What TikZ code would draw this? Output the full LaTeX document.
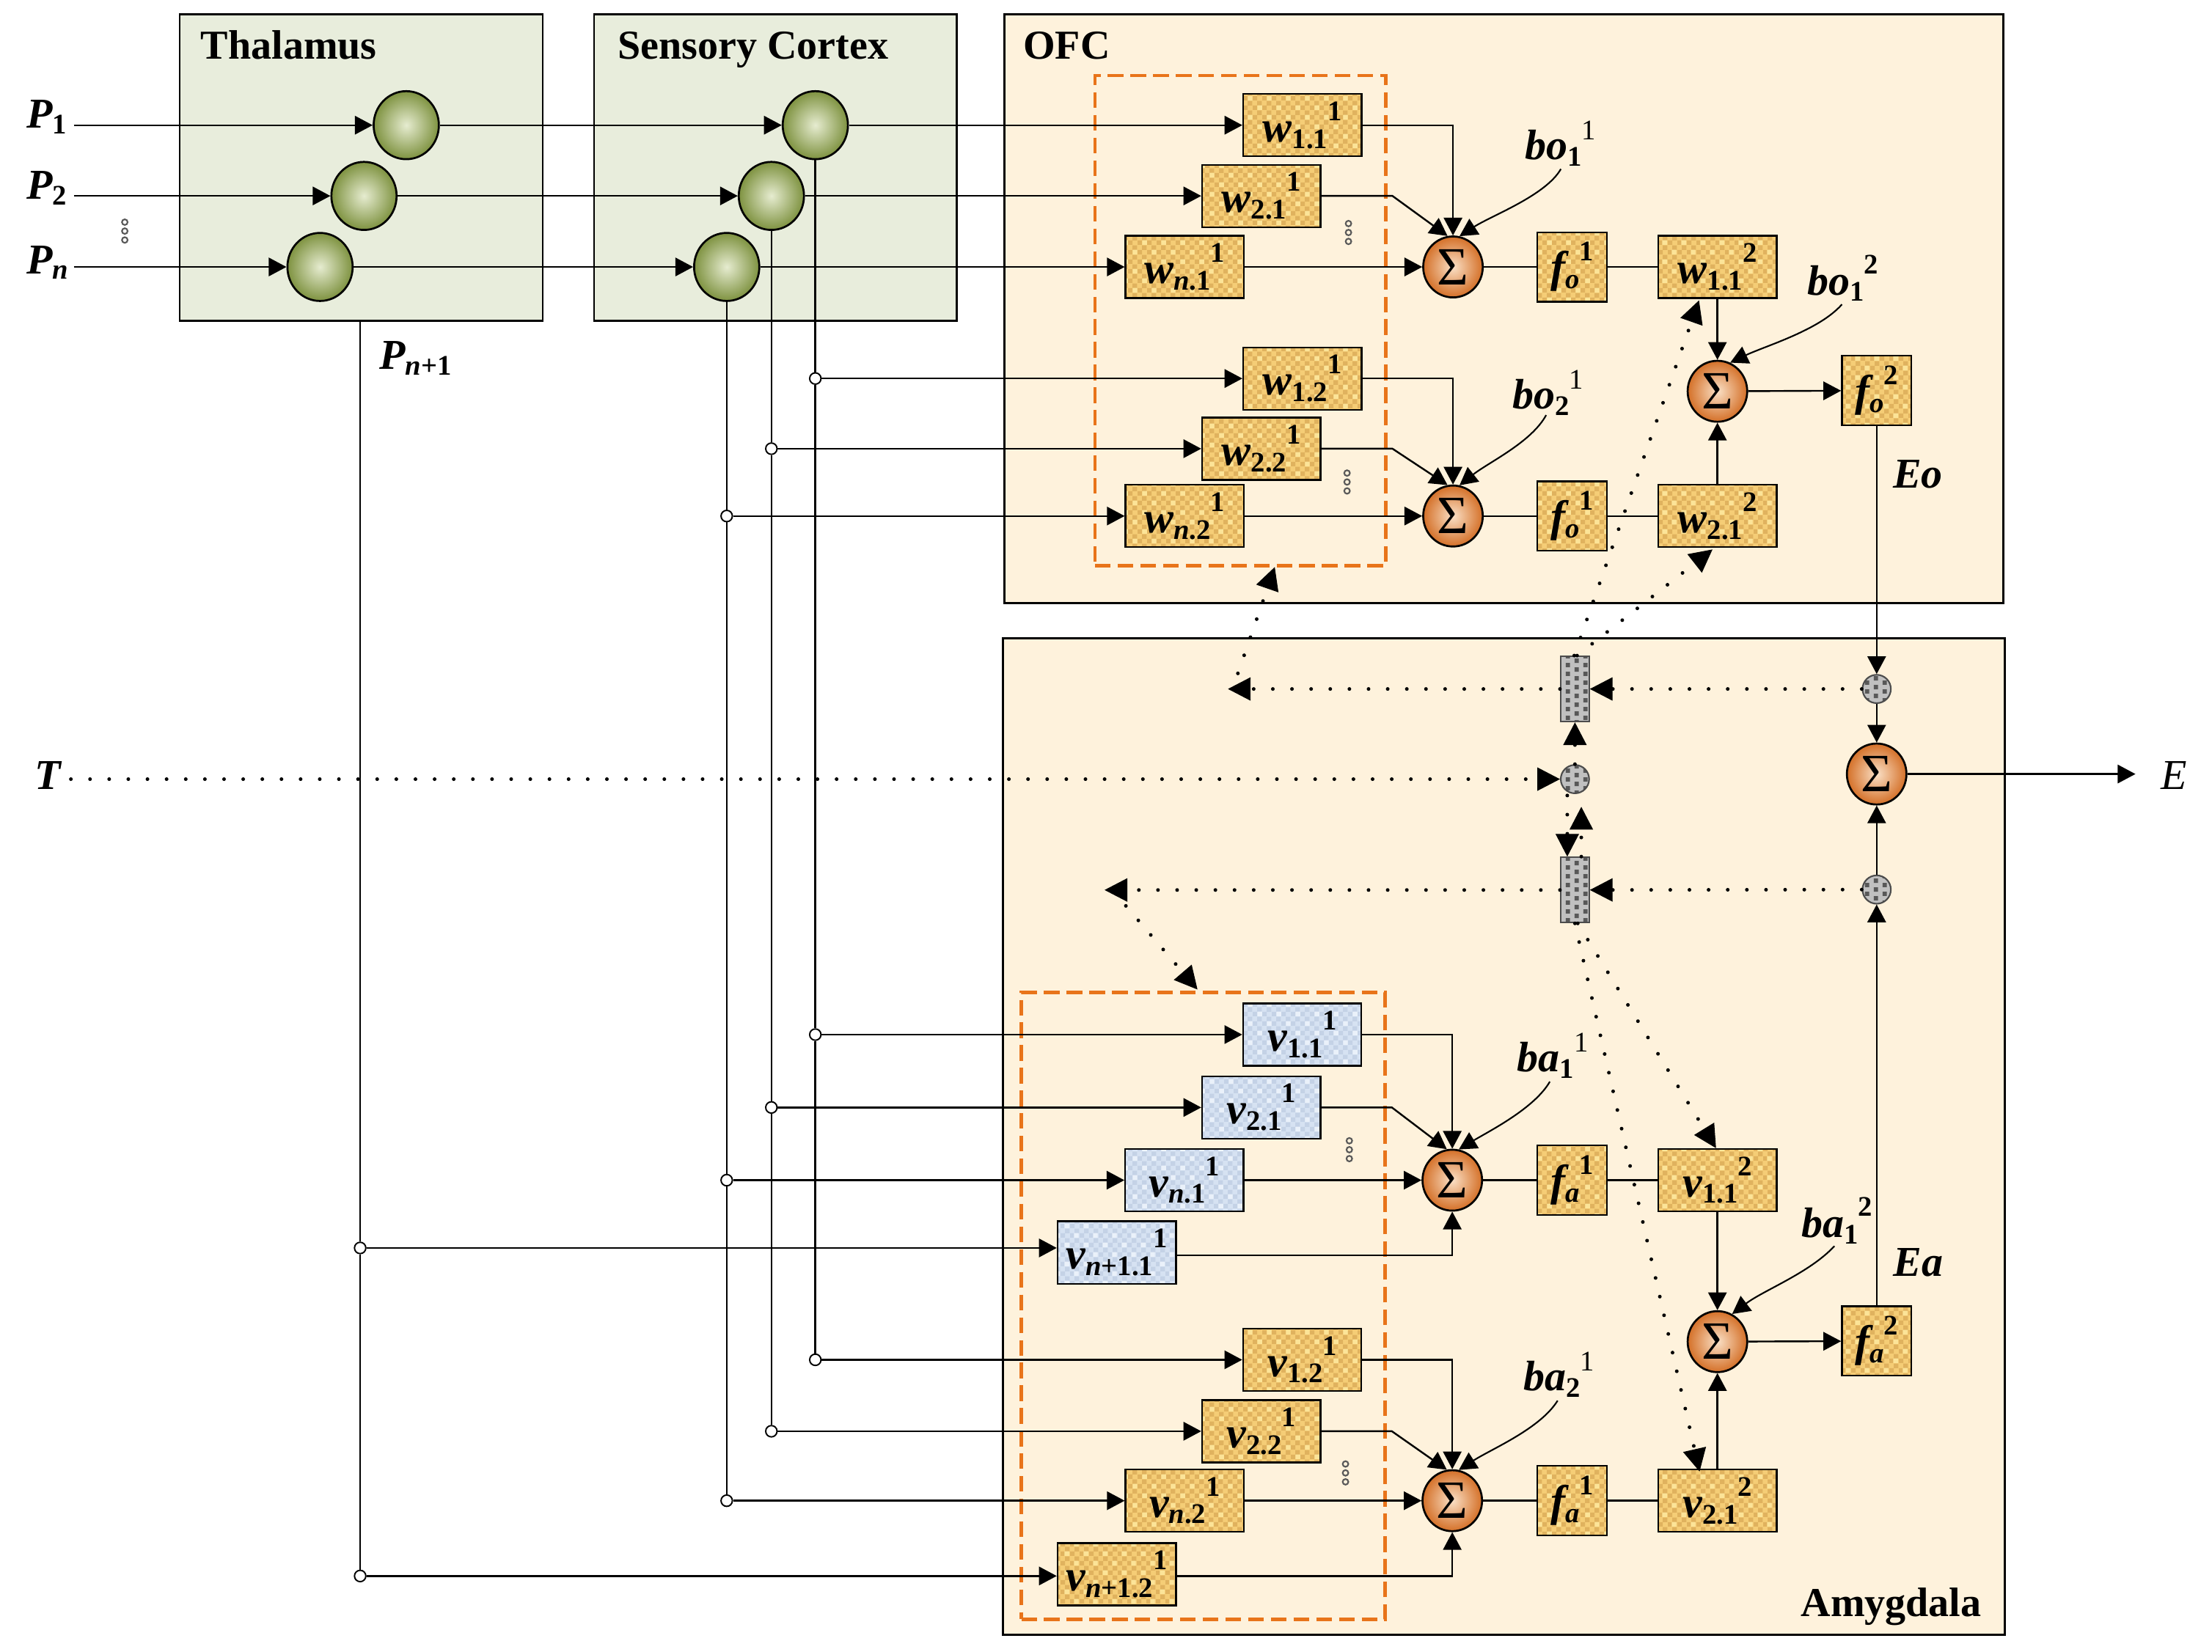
\documentclass[tikz,border=0pt]{standalone}
\usepackage{fontspec}
\setmainfont{Liberation Serif}
\usetikzlibrary{arrows.meta,patterns,shapes.geometric,calc}
\definecolor{thalfill}{RGB}{232,237,220}
\definecolor{ofcfill}{RGB}{254,242,220}
\definecolor{obase}{RGB}{245,205,118}
\definecolor{odark}{RGB}{224,178,94}
\definecolor{olight}{RGB}{252,228,152}
\definecolor{bbase}{RGB}{214,226,242}
\definecolor{bdark}{RGB}{196,210,230}
\definecolor{blight}{RGB}{234,241,250}
\definecolor{gbase}{RGB}{192,192,192}
\definecolor{gdark}{RGB}{88,88,88}
\definecolor{gin}{RGB}{230,236,208}
\definecolor{gout}{RGB}{126,146,64}
\definecolor{sin}{RGB}{250,224,198}
\definecolor{sout}{RGB}{212,112,40}
\definecolor{dorange}{RGB}{232,116,26}
\pgfdeclarepatternformonly{bigcheck}{\pgfqpoint{0pt}{0pt}}{\pgfqpoint{6.8pt}{6.8pt}}{\pgfqpoint{6.8pt}{6.8pt}}{%
 \pgfpathrectangle{\pgfqpoint{0pt}{0pt}}{\pgfqpoint{3.4pt}{3.4pt}}%
 \pgfpathrectangle{\pgfqpoint{3.4pt}{3.4pt}}{\pgfqpoint{3.4pt}{3.4pt}}%
 \pgfusepath{fill}}
\pgfdeclarepatternformonly{lightsq}{\pgfqpoint{0pt}{0pt}}{\pgfqpoint{13.6pt}{13.6pt}}{\pgfqpoint{13.6pt}{13.6pt}}{%
 \pgfpathrectangle{\pgfqpoint{3.4pt}{0pt}}{\pgfqpoint{3.4pt}{3.4pt}}%
 \pgfpathrectangle{\pgfqpoint{10.2pt}{6.8pt}}{\pgfqpoint{3.4pt}{3.4pt}}%
 \pgfusepath{fill}}
\pgfdeclarepatternformonly{graysq}{\pgfqpoint{0pt}{0pt}}{\pgfqpoint{12.4pt}{6.2pt}}{\pgfqpoint{12.4pt}{6.2pt}}{%
 \pgfpathrectangle{\pgfqpoint{1pt}{0pt}}{\pgfqpoint{3pt}{3pt}}%
 \pgfpathrectangle{\pgfqpoint{7.2pt}{3.1pt}}{\pgfqpoint{3pt}{3pt}}%
 \pgfusepath{fill}}
\newcommand{\SB}[1]{\raisebox{-4.5pt}{\fontsize{20pt}{20pt}\selectfont\bfseries\upshape #1}}
\newcommand{\SP}[1]{\raisebox{15pt}{\fontsize{20pt}{20pt}\selectfont\bfseries\upshape #1}}
\newcommand{\SPr}[1]{\raisebox{14pt}{\fontsize{20pt}{20pt}\selectfont\mdseries\upshape #1}}
\newcommand{\PB}[1]{\raisebox{-4pt}{\fontsize{20pt}{20pt}\selectfont\bfseries\upshape #1}}
\tikzset{vdts/.pic={\foreach \d in {-6.3,0,6.3} {\draw[line width=1.1pt, draw=black!65] (0,\d) circle[radius=2pt];}}}
\begin{document}
\begin{tikzpicture}[x=1pt,y=-1pt,line width=1.25pt,
  every node/.style={font=\fontsize{31pt}{31pt}\selectfont\bfseries\itshape},
  region/.style={draw, line width=1.4pt, inner sep=0pt, outer sep=0pt, anchor=north west},
  dbox/.style={draw=dorange, line width=2.5pt, dash pattern=on 11pt off 5pt, inner sep=0pt, anchor=north west},
  ttl/.style={font=\fontsize{29pt}{29pt}\selectfont\bfseries\upshape, inner sep=0pt},
  lbl/.style={inner sep=0pt},
  wbox/.style={rectangle, draw, line width=1.2pt, minimum width=83.5pt, minimum height=44pt, inner sep=0pt,
     preaction={fill=obase}, preaction={pattern=bigcheck, pattern color=odark}, pattern=lightsq, pattern color=olight},
  vbox/.style={rectangle, draw, line width=1.2pt, minimum width=83.5pt, minimum height=44pt, inner sep=0pt,
     preaction={fill=bbase}, preaction={pattern=bigcheck, pattern color=bdark}, pattern=lightsq, pattern color=blight},
  fbox/.style={wbox, minimum width=49pt, minimum height=49pt},
  sig/.style={ellipse, draw, line width=1.4pt, minimum width=42pt, minimum height=43pt, inner sep=0pt, inner color=sin, outer color=sout, font=\fontsize{38pt}{38pt}\selectfont\mdseries\upshape},
  grn/.style={ellipse, draw, line width=1.4pt, minimum width=46pt, minimum height=48pt, inner sep=0pt, inner color=gin, outer color=gout},
  gsm/.style={ellipse, draw=black!70, line width=1.1pt, minimum width=20pt, minimum height=20pt, inner sep=0pt, preaction={fill=gbase}, pattern=graysq, pattern color=gdark},
  gbar/.style={rectangle, draw=black!70, line width=1.1pt, minimum width=20pt, minimum height=46pt, inner sep=0pt, preaction={fill=gbase}, pattern=graysq, pattern color=gdark},
  jn/.style={circle, draw, fill=white, line width=1pt, minimum size=8pt, inner sep=0pt},
  arr/.style={-{Triangle[length=12.5pt,width=13pt]}},
  dotl/.style={line width=2.6pt, dash pattern=on 0pt off 13.5pt, line cap=round, -{Triangle[length=16pt,width=16.5pt,line width=0.5pt]}}
]
\useasboundingbox (0,0) rectangle (1560,1165);
% regions
\node[region, fill=thalfill, minimum width=256pt, minimum height=216pt] (thal) at (126.7,10.2) {};
\node[region, fill=thalfill, minimum width=255.6pt, minimum height=216pt] (sens) at (419,10.2) {};
\node[region, fill=ofcfill, minimum width=704.6pt, minimum height=415.4pt] (ofc) at (708.4,10.2) {};
\node[region, fill=ofcfill, minimum width=706.5pt, minimum height=702.6pt] (amy) at (707.5,450.4) {};
\node[dbox, minimum width=205pt, minimum height=346pt] (ofcd) at (771,52) {};
\node[dbox, minimum width=256.5pt, minimum height=442pt] (amyd) at (719,699) {};
% titles
\node[ttl, anchor=base west] (tThal) at (141,41.6) {Thalamus};
\node[ttl, anchor=base west] (tSens) at (435,41.6) {Sensory Cortex};
\node[ttl, anchor=base west] (tOFC) at (721,41.6) {OFC};
\node[ttl, anchor=base east] (tAmy) at (1398,1140) {Amygdala};
% input labels
\node[lbl, anchor=base west, font=\fontsize{30pt}{30pt}\selectfont\bfseries\itshape] (lP1) at (18,90.5) {P\PB{1}};
\node[lbl, anchor=base west, font=\fontsize{30pt}{30pt}\selectfont\bfseries\itshape] (lP2) at (18,140.4) {P\PB{2}};
\node[lbl, anchor=base west, font=\fontsize{30pt}{30pt}\selectfont\bfseries\itshape] (lPn) at (18,193) {P\PB{\textit{n}}};
\node[lbl, anchor=base west, font=\fontsize{30pt}{30pt}\selectfont\bfseries\itshape] (lPn1) at (267,260.5) {P\PB{\textit{n}+1}};
\node[lbl, anchor=base west, font=\fontsize{30pt}{30pt}\selectfont\bfseries\itshape] (lT) at (24,557) {T};
\node[lbl, anchor=base west, font=\fontsize{30pt}{30pt}\selectfont\mdseries\itshape] (lE) at (1523.6,557) {E};
\node[lbl, anchor=base west, font=\fontsize{30pt}{30pt}\selectfont\bfseries\itshape] (lEo) at (1334.5,344) {Eo};
\node[lbl, anchor=base west, font=\fontsize{30pt}{30pt}\selectfont\bfseries\itshape] (lEa) at (1334.7,900) {Ea};
\node[lbl, anchor=base west, font=\fontsize{30pt}{30pt}\selectfont\bfseries\itshape] (lbo11) at (1075,112.7) {bo\SB{1}\SPr{1}};
\node[lbl, anchor=base west, font=\fontsize{30pt}{30pt}\selectfont\bfseries\itshape] (lbo21) at (1066,288.3) {bo\SB{2}\SPr{1}};
\node[lbl, anchor=base west, font=\fontsize{30pt}{30pt}\selectfont\bfseries\itshape] (lbo12) at (1274,208) {bo\SB{1}\SP{2}};
\node[lbl, anchor=base west, font=\fontsize{30pt}{30pt}\selectfont\bfseries\itshape] (lba11) at (1069.5,756) {ba\SB{1}\SPr{1}};
\node[lbl, anchor=base west, font=\fontsize{30pt}{30pt}\selectfont\bfseries\itshape] (lba21) at (1074,981) {ba\SB{2}\SPr{1}};
\node[lbl, anchor=base west, font=\fontsize{30pt}{30pt}\selectfont\bfseries\itshape] (lba12) at (1270,873) {ba\SB{1}\SP{2}};
% thalamus / sensory neurons
\node[grn] (T1) at (286.5,88.3) {};
\node[grn] (T2) at (256.7,138.2) {};
\node[grn] (Tn) at (225.7,188.3) {};
\node[grn] (S1) at (575,88.3) {};
\node[grn] (S2) at (544,138.2) {};
\node[grn] (Sn) at (512.5,188.3) {};
% OFC
\node[wbox] (w11) at (918.5,88.3) {w\SB{1.1}\SP{1}};
\node[wbox] (w21) at (889.5,138.2) {w\SB{2.1}\SP{1}};
\node[wbox] (wn1) at (835.5,188.3) {w\SB{\textit{n}.1}\SP{1}};
\node[wbox] (w12) at (918.5,267) {w\SB{1.2}\SP{1}};
\node[wbox] (w22) at (889.5,316.5) {w\SB{2.2}\SP{1}};
\node[wbox] (wn2) at (835.5,364) {w\SB{\textit{n}.2}\SP{1}};
\node[sig] (sO1) at (1024.7,188.3) {Σ};
\node[sig] (sO2) at (1024.7,364) {Σ};
\node[fbox] (fO1) at (1108.7,188.3) {f\SB{\textit{o}}\SP{1}};
\node[fbox] (fO1b) at (1108.7,364) {f\SB{\textit{o}}\SP{1}};
\node[wbox] (w112) at (1211.2,188.3) {w\SB{1.1}\SP{2}};
\node[wbox] (w212) at (1211.2,364) {w\SB{2.1}\SP{2}};
\node[sig] (sO3) at (1211.2,276) {Σ};
\node[fbox] (fO2) at (1323.5,275.5) {f\SB{\textit{o}}\SP{2}};
% middle
\node[gsm] (gC1) at (1323.5,486) {};
\node[gbar] (bar1) at (1110.7,486) {};
\node[sig] (sE) at (1323.5,546) {Σ};
\node[gsm] (gT) at (1110.7,549.6) {};
\node[gbar] (bar2) at (1110.7,627.8) {};
\node[gsm] (gC3) at (1323.5,627.5) {};
% Amygdala
\node[vbox] (v11) at (918.4,729.8) {v\SB{1.1}\SP{1}};
\node[vbox] (v21) at (889.5,781.2) {v\SB{2.1}\SP{1}};
\node[vbox] (vn1) at (835.3,832.5) {v\SB{\textit{n}.1}\SP{1}};
\node[vbox] (vnp1) at (787.6,883.5) {v\SB{\textit{n}+1.1}\SP{1}};
\node[sig] (sA1) at (1024.2,832.5) {Σ};
\node[fbox] (fA1) at (1108.7,832.5) {f\SB{\textit{a}}\SP{1}};
\node[wbox] (v112) at (1211.2,832.5) {v\SB{1.1}\SP{2}};
\node[sig] (sA3) at (1211.2,946.4) {Σ};
\node[fbox] (fA2) at (1323.5,946) {f\SB{\textit{a}}\SP{2}};
\node[wbox] (v12) at (918.4,959.2) {v\SB{1.2}\SP{1}};
\node[wbox] (v22) at (889.5,1009.6) {v\SB{2.2}\SP{1}};
\node[wbox] (vn2) at (835.5,1058.6) {v\SB{\textit{n}.2}\SP{1}};
\node[wbox] (vnp2) at (787.6,1110.5) {v\SB{\textit{n}+1.2}\SP{1}};
\node[sig] (sA2) at (1024.2,1058.6) {Σ};
\node[fbox] (fA1b) at (1108.7,1058.6) {f\SB{\textit{a}}\SP{1}};
\node[wbox] (v212) at (1211.2,1058.6) {v\SB{2.1}\SP{2}};
% junctions
\node[jn] (jA1) at (575,267) {};
\node[jn] (jB1) at (544,316.5) {};
\node[jn] (jC1) at (512.5,364) {};
\node[jn] (jA2) at (575,729.8) {};
\node[jn] (jB2) at (544,781.2) {};
\node[jn] (jC2) at (512.5,832.5) {};
\node[jn] (jP1) at (254,880.3) {};
\node[jn] (jA3) at (575,959.2) {};
\node[jn] (jB3) at (544,1009.6) {};
\node[jn] (jC3) at (512.5,1058.6) {};
\node[jn] (jP2) at (254,1111.7) {};
% free-end coordinates
\coordinate (p1s) at (52,88.3);
\coordinate (p2s) at (52,138.2);
\coordinate (pns) at (52,188.3);
\coordinate (ts) at (50,549.6);
\coordinate (Eend) at (1506,546);
\coordinate (c21) at (982,138.2);
\coordinate (c22) at (982,316.5);
\coordinate (d21) at (981.6,781.2);
\coordinate (d22) at (981.6,1009.6);
\coordinate (L1) at (866,486);
\coordinate (L1b) at (873,475);
\coordinate (D1) at (899,400);
\coordinate (L2) at (779,627.8);
\coordinate (L2b) at (794,639);
\coordinate (D2) at (844.5,698);
\coordinate (bo11s) at (1100.8,119.2);
\coordinate (bo21s) at (1090.4,292.8);
\coordinate (bo12s) at (1299,214.7);
\coordinate (ba11s) at (1093,763);
\coordinate (ba21s) at (1098.5,988);
\coordinate (ba12s) at (1293.7,879);
% inputs
\draw[arr] (p1s) -- (T1);
\draw[arr] (p2s) -- (T2);
\draw[arr] (pns) -- (Tn);
\draw[arr] (T1) -- (S1);
\draw[arr] (T2) -- (S2);
\draw[arr] (Tn) -- (Sn);
\draw[arr] (S1) -- (w11);
\draw[arr] (S2) -- (w21);
\draw[arr] (Sn) -- (wn1);
% vertical buses
\draw (S1) -- (jA1) -- (jA2) -- (jA3);
\draw (S2) -- (jB1) -- (jB2) -- (jB3);
\draw (Sn) -- (jC1) -- (jC2) -- (jC3);
\draw (thal.south -| jP1) -- (jP1) -- (jP2);
% bus to weights
\draw[arr] (jA1) -- (w12);
\draw[arr] (jB1) -- (w22);
\draw[arr] (jC1) -- (wn2);
\draw[arr] (jA2) -- (v11);
\draw[arr] (jB2) -- (v21);
\draw[arr] (jC2) -- (vn1);
\draw[arr] (jP1) -- (jP1 -| vnp1.west);
\draw[arr] (jA3) -- (v12);
\draw[arr] (jB3) -- (v22);
\draw[arr] (jC3) -- (vn2);
\draw[arr] (jP2) -- (jP2 -| vnp2.west);
% OFC sums
\draw[arr] (w11.east) -| (sO1.north);
\draw[arr] (w21.east) -- (c21) -- (sO1.100);
\draw[arr] (wn1) -- (sO1);
\draw[arr] (w12.east) -| (sO2.north);
\draw[arr] (w22.east) -- (c22) -- (sO2.100);
\draw[arr] (wn2) -- (sO2);
\draw (sO1) -- (fO1);
\draw (fO1) -- (w112);
\draw (sO2) -- (fO1b);
\draw (fO1b) -- (w212);
\draw[arr] (w112) -- (sO3);
\draw[arr] (w212) -- (sO3);
\draw[arr] (sO3) -- (fO2);
\draw[arr] (fO2) -- (gC1);
\draw[arr] (gC1) -- (sE);
\draw[arr] (gC3) -- (sE);
\draw[arr] (sE) -- (Eend);
% Amygdala sums
\draw[arr] (v11.east) -| (sA1.north);
\draw[arr] (v21.east) -- (d21) -- (sA1.100);
\draw[arr] (vn1) -- (sA1);
\draw[arr] ($(vnp1.east)+(0,2)$) -| (sA1.south);
\draw[arr] (v12.east) -| (sA2.north);
\draw[arr] (v22.east) -- (d22) -- (sA2.100);
\draw[arr] (vn2) -- (sA2);
\draw[arr] (vnp2.east |- jP2) -| (sA2.south);
\draw (sA1) -- (fA1);
\draw (fA1) -- (v112);
\draw (sA2) -- (fA1b);
\draw (fA1b) -- (v212);
\draw[arr] (v112) -- (sA3);
\draw[arr] (v212) -- (sA3);
\draw[arr] (sA3) -- (fA2);
\draw[arr] (fA2) -- (gC3);
% bias curves
\draw[line width=1.1pt, arr] (bo11s) .. controls (1090,138) and (1052,152) .. (sO1.78);
\draw[line width=1.1pt, arr] (bo21s) .. controls (1080,312) and (1050,326) .. (sO2.78);
\draw[line width=1.1pt, arr] (bo12s) .. controls (1283,233) and (1245,244) .. (sO3.66);
\draw[line width=1.1pt, arr] (ba11s) .. controls (1082,782) and (1050,798) .. (sA1.78);
\draw[line width=1.1pt, arr] (ba21s) .. controls (1086,1008) and (1052,1022) .. (sA2.78);
\draw[line width=1.1pt, arr] (ba12s) .. controls (1276,898) and (1244,910) .. (sA3.62);
% dotted paths
\draw[dotl] (ts) -- (gT);
\draw[dotl] (gC1) -- (bar1);
\draw[dotl] (bar1) -- (L1);
\draw[dotl] (L1b) -- (D1);
\draw[dotl] (gC3) -- (bar2);
\draw[dotl] (bar2) -- (L2);
\draw[dotl] (L2b) -- (D2);
\draw[dotl] (gT) -- (bar1);
\draw[dotl] ($(bar2.north)+(4.5,0)$) -- ($(gT.south)+(4.5,9)$);
\draw[dotl] ($(gT.south)+(-5.4,1)$) -- ($(bar2.north)+(-5.4,0)$);
\draw[dotl] ($(bar1.north)+(-0.5,0)$) -- ($(w112.south)+(-13,1)$);
\draw[dotl] ($(bar1.north)+(1.5,0)$) -- ($(w212.south)+(-3.5,1)$);
\draw[dotl] ($(bar2.south)+(2,0)$) -- ($(v112.north)+(-1,0)$);
\draw[dotl] ($(bar2.south)+(0,0)$) -- ($(v212.north)+(-12.6,2)$);
% ellipsis dots
\pic at (88,163) {vdts};
\pic at (951,164) {vdts};
\pic at (950,340) {vdts};
\pic at (951.6,811) {vdts};
\pic at (948.9,1039) {vdts};
\end{tikzpicture}
\end{document}
